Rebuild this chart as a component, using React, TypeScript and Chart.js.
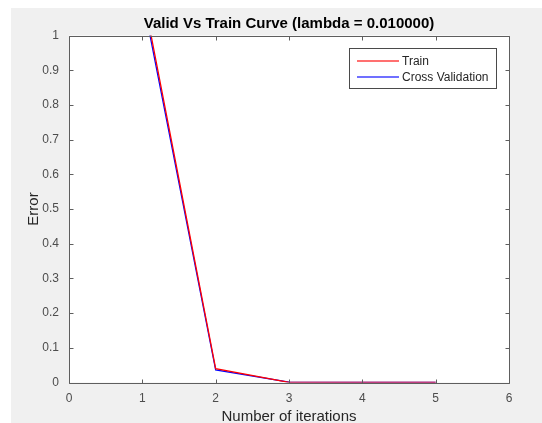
import React, { useEffect, useRef } from "react";
import { Chart, registerables } from "chart.js";

Chart.register(...registerables);

const iterations = [1, 2, 3, 4, 5];
const trainError = [1.13, 0.04, 0.0004, 0.0002, 0.0001];
const cvError = [1.113, 0.036, 0.0008, 0.0006, 0.0005];
const xTicks = [0, 1, 2, 3, 4, 5, 6];
const yTicks = [0, 0.1, 0.2, 0.3, 0.4, 0.5, 0.6, 0.7, 0.8, 0.9, 1];
const titleText = "Valid Vs Train Curve (lambda = 0.010000)";
const xTitle = "Number of iterations";
const yTitle = "Error";
const seriesLabels = ["Train", "Cross Validation"];
const seriesColors = ["#ff0000", "#0000ff"];

const FONT = "Arial, 'Liberation Sans', Helvetica, sans-serif";
const AXIS = "#5e5e5e";

const boxPlugin = {
  id: "matlabBox",
  beforeDraw(chart: any) {
    const { ctx, chartArea: a } = chart;
    ctx.save();
    ctx.fillStyle = "#ffffff";
    ctx.fillRect(a.left, a.top, a.right - a.left, a.bottom - a.top);
    ctx.restore();
  },
  afterDatasetsDraw(chart: any) {
    const { ctx, chartArea: a, scales } = chart;
    const L = Math.round(a.left) + 0.5;
    const R = Math.round(a.right) + 0.5;
    const T = Math.round(a.top) + 0.5;
    const B = Math.round(a.bottom) + 0.5;
    ctx.save();
    ctx.strokeStyle = AXIS;
    ctx.lineWidth = 1;
    ctx.beginPath();
    ctx.rect(L, T, R - L, B - T);
    const tl = 4;
    xTicks.forEach((v) => {
      const x = Math.round(scales.x.getPixelForValue(v)) + 0.5;
      ctx.moveTo(x, B);
      ctx.lineTo(x, B - tl);
      ctx.moveTo(x, T);
      ctx.lineTo(x, T + tl);
    });
    yTicks.forEach((v) => {
      const y = Math.round(scales.y.getPixelForValue(v)) + 0.5;
      ctx.moveTo(L, y);
      ctx.lineTo(L + tl, y);
      ctx.moveTo(R, y);
      ctx.lineTo(R - tl, y);
    });
    ctx.stroke();

    // legend
    const bx = 349.5, by = 48.5, bw = 147, bh = 40;
    ctx.fillStyle = "#ffffff";
    ctx.fillRect(bx, by, bw, bh);
    ctx.strokeStyle = "#4a4a4a";
    ctx.strokeRect(bx, by, bw, bh);
    ctx.font = "12px " + FONT;
    ctx.textBaseline = "middle";
    ctx.textAlign = "left";
    chart.data.datasets.forEach((ds: any, i: number) => {
      const y = by + 12.5 + i * 16;
      ctx.strokeStyle = ds.borderColor;
      ctx.globalAlpha = 0.75;
      ctx.lineWidth = 1.3;
      ctx.beginPath();
      ctx.moveTo(357, y);
      ctx.lineTo(399, y);
      ctx.stroke();
      ctx.globalAlpha = 1;
      ctx.fillStyle = "#262626";
      ctx.fillText(ds.label, 402, y + 0.5);
    });
    ctx.restore();
  },
};

export default function App() {
  const ref = useRef<HTMLCanvasElement>(null);
  useEffect(() => {
    if (!ref.current) return;
    const chart = new Chart(ref.current, {
      type: "line",
      data: {
        datasets: [
          {
            label: seriesLabels[0],
            data: iterations.map((x, i) => ({ x, y: trainError[i] })),
            borderColor: seriesColors[0],
            borderWidth: 1.3,
            pointRadius: 0,
            fill: false,
            tension: 0,
          },
          {
            label: seriesLabels[1],
            data: iterations.map((x, i) => ({ x, y: cvError[i] })),
            borderColor: seriesColors[1],
            borderWidth: 1.3,
            pointRadius: 0,
            fill: false,
            tension: 0,
          },
        ],
      },
      options: {
        animation: false,
        responsive: false,
        devicePixelRatio: 1,
        layout: { padding: { left: 0, right: 33, top: 0, bottom: 0 } },
        plugins: {
          legend: { display: false },
          tooltip: { enabled: false },
          title: {
            display: true,
            fullSize: false,
            text: titleText,
            color: "#000000",
            font: { family: FONT, size: 15, weight: "bold" },
            padding: { top: 15, bottom: 2.5 },
          },
        },
        scales: {
          x: {
            type: "linear",
            min: 0,
            max: 6,
            afterFit: (s: any) => {
              s.height = 40.5;
            },
            afterBuildTicks: (s: any) => {
              s.ticks = xTicks.map((v) => ({ value: v }));
            },
            grid: { display: false, drawTicks: false, tickLength: 0 },
            border: { display: false },
            ticks: {
              color: "#4d4d4d",
              font: { family: FONT, size: 12 },
              padding: 9,
              maxRotation: 0,
              autoSkip: false,
              callback: (v: any) => String(v),
            },
            title: {
              display: true,
              text: xTitle,
              color: "#262626",
              font: { family: FONT, size: 15 },
              padding: { top: 0, bottom: -3 },
            },
          },
          y: {
            type: "linear",
            min: 0,
            max: 1,
            afterFit: (s: any) => {
              s.width = 69;
            },
            afterBuildTicks: (s: any) => {
              s.ticks = yTicks.map((v) => ({ value: v }));
            },
            grid: { display: false, drawTicks: false, tickLength: 0 },
            border: { display: false },
            ticks: {
              color: "#4d4d4d",
              font: { family: FONT, size: 12 },
              padding: 10,
              autoSkip: false,
              callback: (v: any) => String(Math.round(v * 10) / 10),
            },
            title: {
              display: true,
              text: yTitle,
              color: "#262626",
              font: { family: FONT, size: 15 },
              padding: { top: 25, bottom: 0 },
            },
          },
        },
      },
      plugins: [boxPlugin],
    });
    return () => chart.destroy();
  }, []);

  return (
    <div style={{ position: "fixed", left: 0, top: 0, width: 542, height: 423, background: "#ffffff" }}>
      <div style={{ position: "absolute", left: 11, top: 8, width: 531, height: 415, background: "#f0f0f0" }} />
      <canvas ref={ref} width={542} height={423} style={{ position: "absolute", left: 0, top: 0, width: 542, height: 423 }} />
    </div>
  );
}
